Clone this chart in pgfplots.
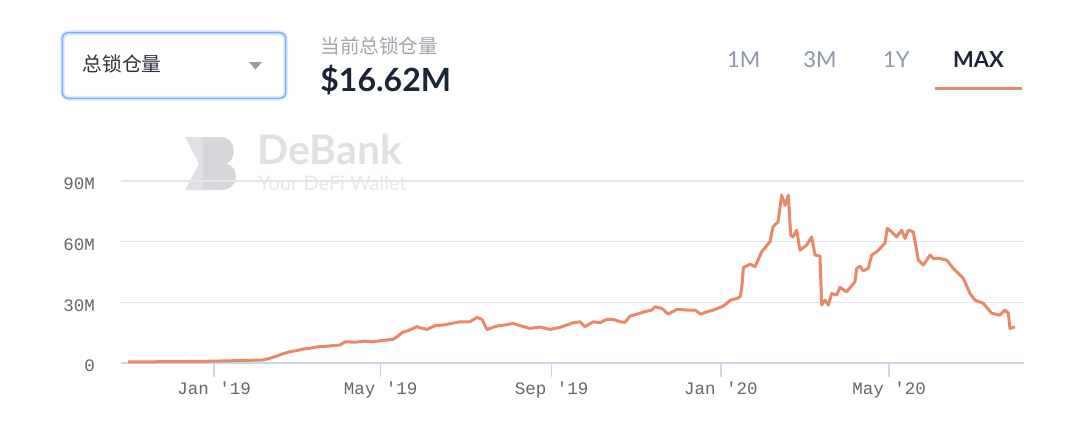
\documentclass[border=0pt]{standalone}
\usepackage{pgfplots}
\pgfplotsset{compat=1.18}
\usepackage{fontspec}
\setmainfont{Lato}
\newfontfamily\cjk{Noto Sans CJK SC}
\newfontfamily\mono{Liberation Mono}
\definecolor{lineC}{RGB}{232,137,106}
\definecolor{gridC}{RGB}{230,230,230}
\definecolor{axisC}{RGB}{204,214,235}
\definecolor{tickTxt}{RGB}{102,102,102}
\definecolor{btnGray}{RGB}{140,152,168}
\definecolor{subGray}{RGB}{160,166,175}
\definecolor{navy}{RGB}{28,37,54}
\definecolor{darkText}{RGB}{45,50,60}
\definecolor{boxBlue}{RGB}{125,176,245}
\definecolor{glow}{RGB}{222,235,253}
\definecolor{caretC}{RGB}{150,155,165}
\definecolor{wmA}{RGB}{214,215,219}
\definecolor{wmB}{RGB}{224,225,228}
\definecolor{wmC}{RGB}{230,231,234}
\pgfplotstableread{
x y
-62 0.5
-46 0.6
-10 0.8
19 1.2
35.3 1.5
40.3 2.4
45.4 3.5
49.7 4.6
54.7 5.6
59.8 6.2
64.1 6.9
69.1 7.3
74.2 8.0
79.9 8.2
85.7 8.6
90.7 8.9
94.3 10.5
101.5 10.3
108.7 10.8
114.5 10.5
121.7 11.2
128.9 11.7
132.5 13.4
135.3 15.0
141.1 16.4
146.1 18.0
149.7 17.2
153.3 16.6
159.1 18.5
164.9 18.8
171.3 19.6
177.1 20.4
184.3 20.4
189.3 22.6
193.0 21.5
196.5 16.6
203.7 18.3
209.5 18.8
215.3 19.6
220.3 18.5
227.5 17.1
234.7 17.8
241.9 16.6
249.1 17.6
258.5 19.9
263.5 20.4
267.1 18.0
272.9 20.4
277.9 19.9
282.9 21.6
287.3 21.6
292.3 20.4
295.9 20.1
299.5 23.2
304.5 24.2
310.3 25.4
315.3 26.2
317.5 27.8
322.5 27.0
326.9 24.2
333.3 26.5
340.5 26.2
346.3 26.2
350.4 24.2
355.3 25.4
359.6 26.2
366.8 28.2
371.8 31.1
376.9 32.0
379.0 33.0
380.0 37.7
381.2 47.3
386.2 48.9
389.5 47.6
394.3 55.0
400.3 60.0
402.5 67.4
406.1 69.8
408.7 83.0
411.2 78.0
413.5 83.0
415.2 63.3
416.8 62.4
419.5 65.7
421.9 55.8
426.7 58.3
430.3 62.4
432.7 53.4
436.3 52.9
437.5 28.7
439.9 31.1
442.3 28.7
444.7 34.4
448.3 33.6
450.7 37.4
455.5 35.2
461.5 40.2
462.7 46.8
465.1 47.9
467.5 45.6
471.1 46.8
473.5 53.4
477.1 55.0
480.7 57.5
483.1 59.2
484.7 66.6
487.9 64.9
491.5 62.4
495.1 65.7
497.5 61.6
499.9 65.7
503.5 64.9
507.1 50.9
510.7 48.4
515.5 53.4
517.9 51.7
522.7 51.7
527.5 50.9
532.3 46.8
539.5 41.9
544.3 34.4
547.9 31.1
553.9 29.5
559.9 24.6
565.9 23.7
569.5 26.2
571.9 24.6
573.1 17.1
576.7 17.9
}\tvl
\begin{document}
\begin{tikzpicture}[x=0.5pt,y=-0.5pt]
\useasboundingbox (0,0) rectangle (1080,441);
% watermark
\fill[wmB] (185,137) -- (210,137) .. controls (228,137) and (228,190) .. (210,190) -- (185,190) -- (199,163.5) -- cycle;
\fill[wmA] (203,137) -- (221,137) .. controls (237,137) and (237,161) .. (226,163.5) .. controls (240,166) and (240,190) .. (221,190) -- (203,190) -- cycle;
\node[anchor=base west, inner sep=0, font=\bfseries\fontsize{20.5}{22}\selectfont, text=wmB] at (257,164) {DeBank};
\node[anchor=base west, inner sep=0, font=\fontsize{10}{12}\selectfont, text=wmC] at (258,190) {Your DeFi Wallet};
\begin{axis}[
  at={(60.5pt,-181.5pt)}, anchor=south west,
  scale only axis, width=451.5pt, height=91pt,
  xmin=-67, xmax=583.2, ymin=0, ymax=90,
  axis x line*=bottom, axis y line*=left,
  x axis line style={draw=axisC, line width=0.75pt, -},
  y axis line style={draw=none},
  xtick={0,120,243,365,486},
  xticklabels={Jan '19,May '19,Sep '19,Jan '20,May '20},
  ytick={0,30,60,90},
  yticklabels={0,30M,60M,90M},
  xtick style={draw=axisC, line width=0.75pt},
  ytick style={draw=none},
  tick align=outside, major tick length=7pt,
  ymajorgrids, grid style={draw=gridC, line width=0.75pt},
  ticklabel style={font=\mono\fontsize{8.75}{10}\selectfont, text=tickTxt},
  yticklabel style={xshift=-2.5pt, yshift=-1.5pt},
  xticklabel style={yshift=1pt},
]
\addplot[lineC, line width=1.5pt, line join=round, mark=none] table[x=x,y=y] {\tvl};
\end{axis}
% header
\draw[glow, line width=2.5pt, rounded corners=3.5pt] (62.3,32.7) rectangle (285.7,98.3);
\draw[boxBlue, line width=0.75pt, rounded corners=3pt] (62.3,32.7) rectangle (285.7,98.3);
\node[anchor=base west, inner sep=0, font=\cjk\fontsize{9.9}{12}\selectfont, text=darkText] at (82,71.5) {总锁仓量};
\fill[caretC] (249,62) -- (262,62) -- (255.5,69.5) -- cycle;
\node[anchor=base west, inner sep=0, font=\cjk\fontsize{9.8}{12}\selectfont, text=subGray] at (320,53) {当前总锁仓量};
\node[anchor=base west, inner sep=0, font=\bfseries\fontsize{16}{18}\selectfont, text=navy] at (320,91) {\$16.62M};
\node[anchor=base west, inner sep=0, font=\fontsize{11}{13}\selectfont, text=btnGray] at (726.7,67.3) {1M};
\node[anchor=base west, inner sep=0, font=\fontsize{11}{13}\selectfont, text=btnGray] at (803,67.3) {3M};
\node[anchor=base west, inner sep=0, font=\fontsize{11}{13}\selectfont, text=btnGray] at (882.7,67.3) {1Y};
\node[anchor=base west, inner sep=0, font=\bfseries\fontsize{11}{13}\selectfont, text=navy] at (952.7,67.3) {MAX};
\draw[lineC, line width=1.5pt] (935,88.3) -- (1022,88.3);
\end{tikzpicture}
\end{document}
